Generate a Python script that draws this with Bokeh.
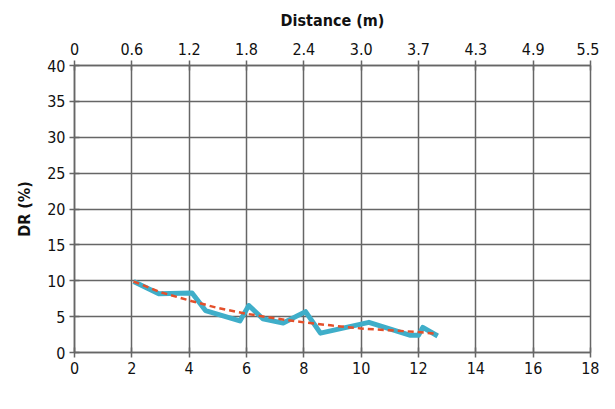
from bokeh.plotting import figure
from bokeh.models import LinearAxis, FixedTicker, Range1d
from bokeh.embed import file_html
from bokeh.resources import INLINE

# measured DR values vs distance (ft)
dist_ft = [2.06, 2.94, 4.1, 4.57, 5.77, 6.08, 6.57, 7.28, 8.06, 8.58, 10.27, 11.72, 12.0, 12.15, 12.67]
dr_pct = [9.9, 8.2, 8.3, 5.85, 4.4, 6.55, 4.7, 4.1, 5.7, 2.7, 4.2, 2.4, 2.4, 3.5, 2.3]

# trend line values
trend_ft = [2.06, 3.0, 4.1, 5.0, 6.0, 7.0, 8.0, 9.0, 10.0, 11.0, 12.0, 12.67]
trend_pct = [9.9, 8.4, 7.15, 6.2, 5.4, 4.75, 4.2, 3.75, 3.35, 3.1, 2.85, 2.6]

ft_ticks = [0, 2, 4, 6, 8, 10, 12, 14, 16, 18]
m_labels = ["0", "0.6", "1.2", "1.8", "2.4", "3.0", "3.7", "4.3", "4.9", "5.5"]
y_ticks = [0, 5, 10, 15, 20, 25, 30, 35, 40]

FONT = "DejaVu Sans Condensed"
GRID = "#666666"

p = figure(width=599, height=401, output_backend="svg", toolbar_location=None,
           x_range=Range1d(0, 18), y_range=Range1d(0, 40),
           min_border_left=74, min_border_right=9, min_border_top=65, min_border_bottom=49)
p.outline_line_color = GRID
p.outline_line_width = 1.5

p.xaxis.ticker = FixedTicker(ticks=ft_ticks)
p.yaxis.ticker = FixedTicker(ticks=y_ticks)
p.xgrid.ticker = FixedTicker(ticks=ft_ticks)
p.ygrid.ticker = FixedTicker(ticks=y_ticks)
for g in (p.xgrid, p.ygrid):
    g.grid_line_color = GRID
    g.grid_line_width = 1.5

top = LinearAxis(ticker=FixedTicker(ticks=ft_ticks),
                 major_label_overrides={t: l for t, l in zip(ft_ticks, m_labels)})
p.add_layout(top, "above")

p.xaxis[0].axis_label = "Distance (ft)"
top.axis_label = "Distance (m)"
p.yaxis.axis_label = "DR (%)"

for ax in list(p.xaxis) + list(p.yaxis):
    ax.axis_line_color = GRID
    ax.axis_line_width = 1.5
    ax.major_tick_line_color = GRID
    ax.major_tick_line_width = 1.5
    ax.major_tick_in = 5
    ax.major_tick_out = 5
    ax.minor_tick_line_color = None
    ax.major_label_text_font = FONT
    ax.major_label_text_font_size = "16px"
    ax.major_label_text_color = "#111111"
    ax.axis_label_text_font = FONT
    ax.axis_label_text_font_size = "16px"
    ax.axis_label_text_font_style = "bold"
    ax.axis_label_text_color = "#111111"
    ax.major_label_standoff = 4
    ax.axis_label_standoff = 8

top.major_label_standoff = 6
top.axis_label_standoff = 10
p.yaxis.axis_label_standoff = 10

p.line(dist_ft, dr_pct, line_color="#3FAEC9", line_width=5, line_join="round")
p.line(trend_ft, trend_pct, line_color="#E4502B", line_width=2.5, line_dash="6 4")

open("out.html", "w").write(file_html(p, INLINE))
